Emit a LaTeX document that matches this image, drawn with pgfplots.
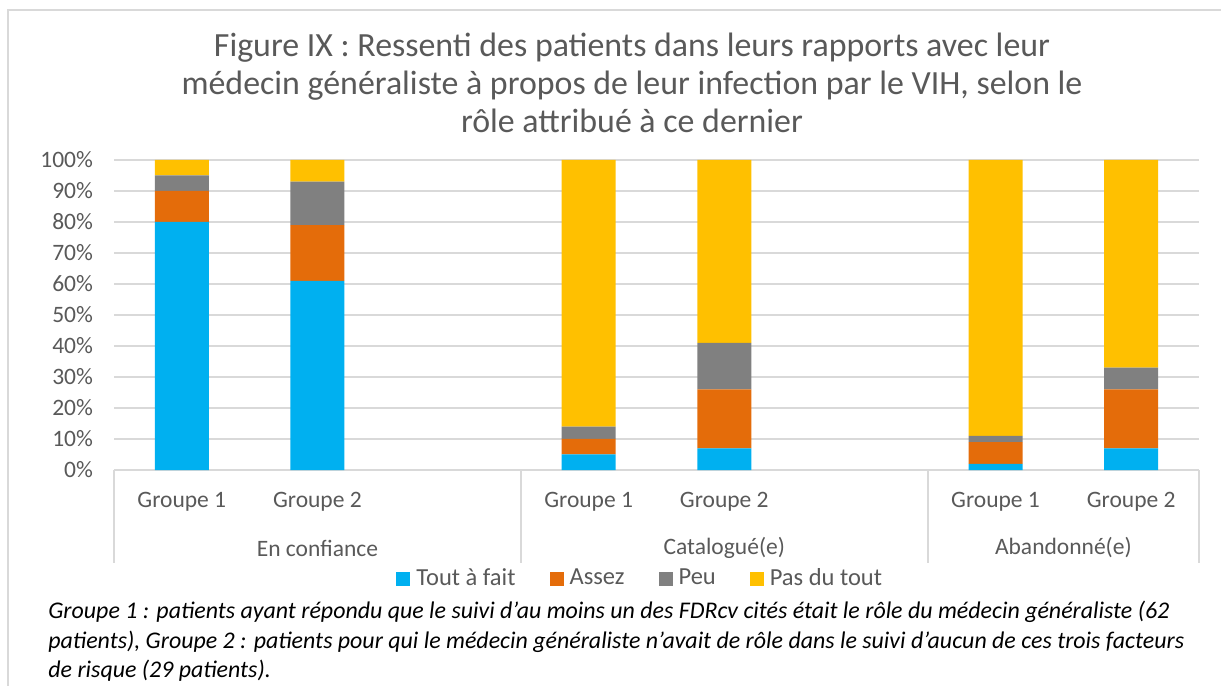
\documentclass[border=0pt]{standalone}
\usepackage{fontspec}
\setmainfont{Carlito}
\usepackage{pgfplots}
\pgfplotsset{compat=1.18}
\definecolor{cblue}{HTML}{00B0F0}
\definecolor{corange}{HTML}{E46C0A}
\definecolor{cgray}{HTML}{808080}
\definecolor{cyellow}{HTML}{FFC000}
\definecolor{txt}{HTML}{595959}
\definecolor{gridc}{HTML}{D9D9D9}
\pgfplotsset{sq/.style={fill=#1, draw=none, legend image code/.code={\fill[#1] (0bp,-3.5bp) rectangle (7bp,3.5bp); \path (9bp,0bp);}}}
\begin{document}
\begin{tikzpicture}
\path[use as bounding box] (0,0) rectangle (610.5bp,343bp);
\draw[gridc, line width=1bp] (4bp,0) -- (4bp,338bp) -- (610.5bp,338bp);
\node[align=center, text=txt, font=\fontsize{17}{19.25}\selectfont] at (316bp,301.5bp) {Figure IX : Ressenti des patients dans leurs rapports avec leur\\médecin généraliste à propos de leur infection par le VIH, selon le\\rôle attribué à ce dernier};
\begin{axis}[
 at={(57bp,108bp)}, anchor=south west,
 scale only axis, width=542.5bp, height=155bp,
 ybar stacked, bar width=27bp,
 xmin=-0.5, xmax=7.5, ymin=0, ymax=100,
 ytick={0,10,...,100}, xtick=\empty,
 yticklabel={\pgfmathprintnumber{\tick}\%},
 /pgf/number format/assume math mode=true,
 ymajorgrids, grid style={gridc, line width=0.75bp},
 axis line style={draw=none}, tick style={draw=none},
 yticklabel style={font=\fontsize{11.8}{14}\selectfont, text=txt, xshift=-7bp},
 clip=false,
 legend style={at={(0.485,-0.35)}, anchor=center, draw=none, fill=none,
   legend columns=4, font=\fontsize{12.3}{14}\selectfont, text=txt,
   nodes={inner sep=1bp},
   /tikz/every even column/.append style={column sep=16bp}},
]
\addplot[sq=cblue] coordinates {(0,80) (1,61) (3,5) (4,7) (6,2) (7,7)};
\addplot[sq=corange] coordinates {(0,10) (1,18) (3,5) (4,19) (6,7) (7,19)};
\addplot[sq=cgray] coordinates {(0,5) (1,14) (3,4) (4,15) (6,2) (7,7)};
\addplot[sq=cyellow] coordinates {(0,5) (1,7) (3,86) (4,59) (6,89) (7,67)};
\legend{Tout à fait, Assez, Peu, Pas du tout}
\draw[gridc, line width=0.75bp] (rel axis cs:0,0) -- (rel axis cs:1,0);
\pgfplotsinvokeforeach{-0.5,2.5,5.5,7.5}{\draw[gridc, line width=0.75bp] (axis cs:#1,0) -- ([yshift=-46.5bp]axis cs:#1,0);}
\pgfplotsinvokeforeach{0,3,6}{\node[text=txt, font=\fontsize{11.8}{14}\selectfont] at (axis cs:#1,0) [yshift=-16bp] {Groupe 1};}
\pgfplotsinvokeforeach{1,4,7}{\node[text=txt, font=\fontsize{11.8}{14}\selectfont] at (axis cs:#1,0) [yshift=-16bp] {Groupe 2};}
\node[text=txt, font=\fontsize{11.8}{14}\selectfont] at (axis cs:1,0) [yshift=-39bp] {En confiance};
\node[text=txt, font=\fontsize{11.8}{14}\selectfont] at (axis cs:4,0) [yshift=-39bp] {Catalogué(e)};
\node[text=txt, font=\fontsize{11.8}{14}\selectfont] at (axis cs:6.5,0) [yshift=-39bp] {Abandonné(e)};
\end{axis}
\node[anchor=north west, inner sep=0pt, align=left, font=\itshape\fontsize{12}{14.75}\selectfont] at (24bp,42.5bp) {Groupe 1 : patients ayant répondu que le suivi d’au moins un des FDRcv cités était le rôle du médecin généraliste (62\\patients), Groupe 2 : patients pour qui le médecin généraliste n’avait de rôle dans le suivi d’aucun de ces trois facteurs\\de risque (29 patients).};
\end{tikzpicture}
\end{document}
